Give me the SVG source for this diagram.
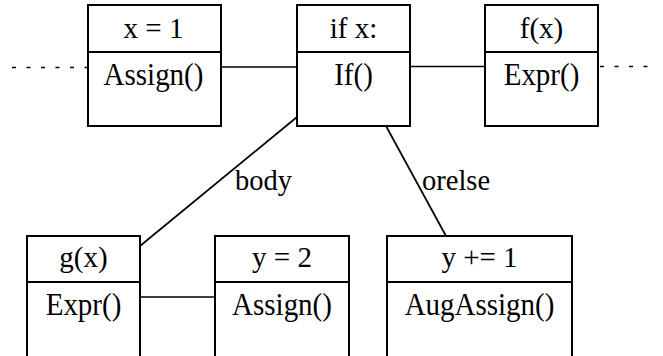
<svg xmlns="http://www.w3.org/2000/svg" width="663" height="356" viewBox="0 0 663 356">
<style>
.box{fill:#fff;stroke:#000;stroke-width:2}
.div{stroke:#000;stroke-width:2}
.ln{stroke:#000;stroke-width:1.7;fill:none}
.dot{stroke:#000;stroke-width:1.7;stroke-dasharray:4 10.5}
.h,.b{font-family:'Liberation Serif','Times New Roman',serif;font-size:29px;fill:#000;text-anchor:middle}
.lbl{font-family:'Liberation Serif','Times New Roman',serif;font-size:28.5px;fill:#000;text-anchor:start}
</style>
<rect width="663" height="356" fill="#fff"/>
<g id="connectors">
<line class="dot" x1="12" y1="67.5" x2="88" y2="67.5"/>
<line class="dot" x1="600" y1="66.5" x2="652" y2="66.5"/>
<line class="ln" x1="221" y1="67" x2="297" y2="67"/>
<line class="ln" x1="410" y1="66.5" x2="485" y2="66.5"/>
<line class="ln" x1="297" y1="117" x2="140" y2="246"/>
<line class="ln" x1="386" y1="126" x2="446" y2="236"/>
<line class="ln" x1="140" y1="297" x2="215" y2="297"/>
<text class="lbl" transform="translate(235,190) scale(1,1.05)">body</text>
<text class="lbl" transform="translate(422,190) scale(1,1.05)">orelse</text>
</g>
<g id="n_assign1">
<rect class="box" x="88" y="5" width="133" height="121"/>
<line class="div" x1="88" y1="52" x2="221" y2="52"/>
<text class="h" transform="translate(153.5,38) scale(1,1.05)">x = 1</text>
<text class="b" transform="translate(153.5,84.5) scale(1,1.07)">Assign()</text>
</g>
<g id="n_if">
<rect class="box" x="297" y="5" width="113" height="121"/>
<line class="div" x1="297" y1="52" x2="410" y2="52"/>
<text class="h" transform="translate(353.5,38) scale(1,1.05)">if x:</text>
<text class="b" transform="translate(353.5,84.5) scale(1,1.07)">If()</text>
</g>
<g id="n_expr_f">
<rect class="box" x="485" y="5" width="113" height="121"/>
<line class="div" x1="485" y1="52" x2="598" y2="52"/>
<text class="h" transform="translate(541.5,38) scale(1,1.05)">f(x)</text>
<text class="b" transform="translate(541.5,84.5) scale(1,1.07)">Expr()</text>
</g>
<g id="n_expr_g">
<rect class="box" x="27" y="236" width="113" height="140"/>
<line class="div" x1="27" y1="282" x2="140" y2="282"/>
<text class="h" transform="translate(83.5,267) scale(1,1.05)">g(x)</text>
<text class="b" transform="translate(83.5,314.5) scale(1,1.07)">Expr()</text>
</g>
<g id="n_assign2">
<rect class="box" x="215" y="236" width="134" height="140"/>
<line class="div" x1="215" y1="282" x2="349" y2="282"/>
<text class="h" transform="translate(282,267) scale(1,1.05)">y = 2</text>
<text class="b" transform="translate(282,314.5) scale(1,1.07)">Assign()</text>
</g>
<g id="n_augassign">
<rect class="box" x="387" y="236" width="185" height="140"/>
<line class="div" x1="387" y1="282" x2="572" y2="282"/>
<text class="h" transform="translate(479.5,267) scale(1,1.05)">y += 1</text>
<text class="b" transform="translate(479.5,314.5) scale(1,1.07)">AugAssign()</text>
</g>
</svg>
